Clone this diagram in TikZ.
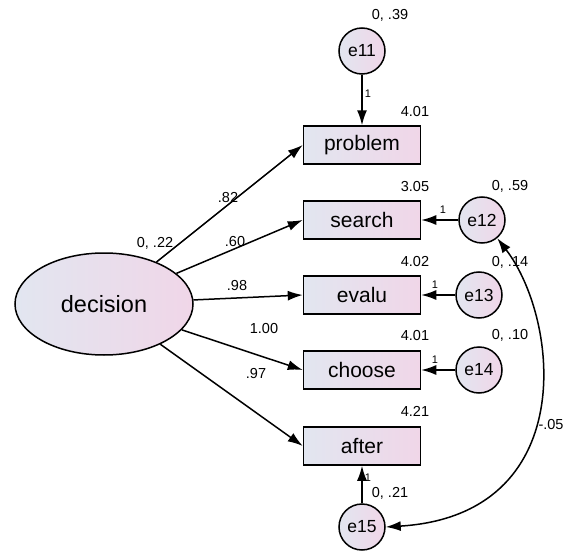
\documentclass[tikz,border=0pt]{standalone}
\usepackage{fontspec}
\setmainfont{Liberation Sans}
\usetikzlibrary{arrows.meta, positioning, shapes.geometric}
\definecolor{shadeL}{HTML}{E2E6F0}
\definecolor{shadeR}{HTML}{F0D6E8}

\begin{document}
\begin{tikzpicture}[x=1pt, y=-1pt, line width=1.5pt,
  obs/.style={draw, rectangle, minimum width=117pt, minimum height=38pt,
    left color=shadeL, right color=shadeR, font=\fontsize{21}{24}\selectfont},
  err/.style={draw, circle, minimum size=46pt, inner sep=0pt,
    left color=shadeL, right color=shadeR, font=\fontsize{17.5}{20}\selectfont},
  lat/.style={draw, ellipse, minimum width=178pt, minimum height=102pt,
    left color=shadeL, right color=shadeR, font=\fontsize{23.5}{26}\selectfont},
  est/.style={font=\fontsize{14.5}{16}\selectfont, inner sep=1pt},
  one/.style={font=\fontsize{11}{12}\selectfont, inner sep=0pt},
  path/.style={-{Latex[length=15pt, width=10pt]}}]
\useasboundingbox (0,0) rectangle (566,554);

\def\bx{362}

% Latent factor
\node[lat] (decision) at (104,304) {decision};

% Observed items
\node[obs] (problem) at (\bx,145) {problem};
\node[obs] (search) at (\bx,220) {search};
\node[obs] (evalu) at (\bx,295) {evalu};
\node[obs] (choose) at (\bx,370) {choose};
\node[obs] (after) at (\bx,446) {after};

% Error terms
\node[err] (e11) at (\bx,51) {e11};
\node[err] (e12) at (482,220) {e12};
\node[err] (e13) at (479,295) {e13};
\node[err] (e14) at (479,370) {e14};
\node[err] (e15) at (\bx,527) {e15};

% Loadings
\draw[path] (decision) -- (problem.west);
\draw[path] (decision) -- (search.west);
\draw[path] (decision) -- (evalu.west);
\draw[path] (decision) -- (choose.west);
\draw[path] (decision) -- (after.west);

% Error paths
\draw[path] (e11) -- (problem);
\draw[path] (e12) -- (search);
\draw[path] (e13) -- (evalu);
\draw[path] (e14) -- (choose);
\draw[path] (e15) -- (after);

% Covariance e12 -- e15
\draw[{Latex[length=15pt, width=10pt]}-{Latex[length=15pt, width=10pt]}]
  (e12.-50) .. controls (560,320) and (580,515) .. (e15.east);

% Estimates
\node[est] (vDec) at (155,243) {0, .22};
\node[est] (v11) at (390,15) {0, .39};
\node[est] (v12) at (510,186) {0, .59};
\node[est] (v13) at (510,262) {0, .14};
\node[est] (v14) at (510,335) {0, .10};
\node[est] (v15) at (390,493) {0, .21};
\node[est] (iProb) at (415,112) {4.01};
\node[est] (iSearch) at (415,187) {3.05};
\node[est] (iEvalu) at (415,262) {4.02};
\node[est] (iChoose) at (415,336) {4.01};
\node[est] (iAfter) at (415,411) {4.21};
\node[est] (wProb) at (228,198) {.82};
\node[est] (wSearch) at (235,242) {.60};
\node[est] (wEvalu) at (237,286) {.98};
\node[est] (wChoose) at (264,329) {1.00};
\node[est] (wAfter) at (256,374) {.97};
\node[est] (cov) at (551,425) {-.05};

% Fixed weights
\node[one] (f11) at (368,94) {1};
\node[one] (f12) at (443,210) {1};
\node[one] (f13) at (435,285) {1};
\node[one] (f14) at (435,360) {1};
\node[one] (f15) at (368,478) {1};
\end{tikzpicture}
\end{document}
